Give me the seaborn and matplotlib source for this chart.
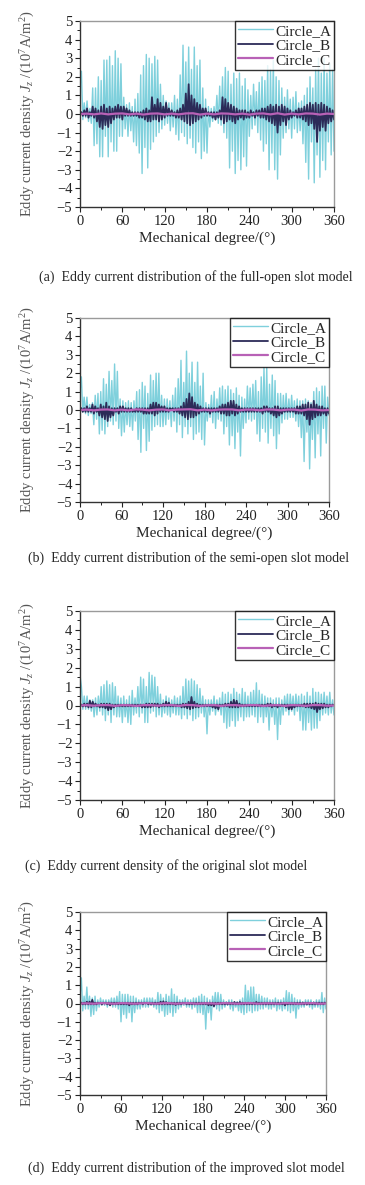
import numpy as np
import matplotlib
matplotlib.use("Agg")
import matplotlib.pyplot as plt
import seaborn as sns

# angle grids (deg)
deg = np.arange(0, 362, 2)
deg_c = np.arange(0, 370, 10)

# (a) full-open slot
a_A = [1.5, 2.3, -0.3, 0.6, -0.2, 0.7, -0.4, 0.3, -0.5, 1.4,
       -1.7, 1.4, -1.6, 2.0, -2.3, 1.8, -2.3, 2.9, -1.2, 2.9,
       -2.3, 3.1, -1.5, 2.6, -2.0, 3.4, -2.0, 3.0, -1.2, 2.7,
       -1.2, 0.9, -0.8, 0.5, -1.2, 0.6, -0.9, 0.4, -1.5, 0.8,
       -1.7, 1.1, -2.1, 2.1, -3.2, 2.6, -1.8, 3.2, -2.9, 3.0,
       -1.9, 2.7, -1.5, 3.1, -1.2, 2.9, -1.0, 1.6, -0.8, 1.0,
       -0.6, 0.7, -0.5, 0.6, -0.9, 0.6, -0.7, 1.0, -1.1, 0.8,
       -1.4, 2.1, -1.0, 3.7, -1.2, 2.8, -1.6, 3.6, -1.3, 2.4,
       -1.8, 3.6, -2.1, 2.6, -1.5, 2.9, -2.4, 1.4, -2.0, 0.8,
       -2.1, 0.4, -0.7, 0.3, -0.4, 0.4, -0.3, 1.0, -0.5, 1.5,
       -0.6, 2.0, -1.0, 2.5, -1.3, 2.3, -2.9, 1.6, -2.0, 2.2,
       -3.2, 1.9, -2.5, 2.2, -3.0, 1.5, -2.3, 1.9, -2.8, 1.3,
       -1.2, 1.0, -0.8, 1.6, -0.6, 1.2, -1.0, 1.7, -1.4, 2.0,
       -2.0, 1.8, -1.6, 2.6, -3.0, 2.4, -2.1, 2.9, -3.0, 2.0,
       -3.5, 1.8, -2.2, 1.4, -1.3, 0.9, -1.0, 1.3, -0.8, 0.8,
       -1.3, 0.9, -0.8, 1.2, -1.0, 0.6, -0.9, 0.7, -1.6, 1.0,
       -2.6, 1.4, -3.5, 2.0, -1.5, 1.4, -3.7, 2.4, -2.2, 3.0,
       -3.4, 2.2, -2.5, 3.0, -3.0, 2.2, -1.5, 2.7, -2.2, 2.4,
       -2.0]
a_B = [0.0, 0.1, -0.1, 0.2, -0.1, 0.3, -0.2, 0.1, -0.1, 0.4,
       -0.2, 0.3, -0.4, 0.2, -0.7, 0.4, -0.8, 0.5, -0.6, 0.3,
       -0.7, 0.4, -0.5, 0.3, -0.3, 0.4, -0.2, 0.5, -0.2, 0.4,
       -0.3, 0.4, -0.1, 0.3, -0.1, 0.2, -0.1, 0.1, -0.1, 0.1,
       -0.1, 0.1, -0.2, 0.1, -0.2, 0.2, -0.3, 0.3, -0.4, 0.2,
       -0.4, 0.9, -0.3, 0.5, -0.3, 0.8, -0.4, 0.6, -0.3, 0.4,
       -0.2, 0.6, -0.1, 0.3, -0.1, 0.2, -0.1, 0.1, -0.2, 0.2,
       -0.2, 0.3, -0.3, 0.5, -0.4, 1.1, -0.5, 1.6, -0.6, 1.0,
       -0.5, 0.8, -0.4, 0.6, -0.3, 0.5, -0.2, 0.3, -0.1, 0.3,
       -0.1, 0.1, -0.1, 0.1, -0.2, 0.1, -0.3, 0.1, -0.2, 0.2,
       -0.3, 0.9, -0.5, 0.8, -0.4, 0.6, -0.3, 0.5, -0.4, 0.4,
       -0.5, 0.3, -0.3, 0.2, -0.2, 0.2, -0.3, 0.2, -0.2, 0.1,
       -0.2, 0.2, -0.1, 0.1, -0.2, 0.2, -0.1, 0.2, -0.2, 0.3,
       -0.2, 0.3, -0.3, 0.4, -0.4, 0.5, -0.5, 0.4, -0.6, 0.5,
       -1.0, 0.4, -0.6, 0.5, -0.4, 0.4, -0.6, 0.3, -0.3, 0.2,
       -0.2, 0.1, -0.1, 0.2, -0.2, 0.3, -0.2, 0.3, -0.3, 0.4,
       -0.4, 0.5, -0.6, 0.6, -0.5, 0.5, -0.8, 0.6, -1.5, 0.5,
       -0.9, 0.6, -0.7, 0.5, -0.9, 0.4, -0.5, 0.3, -0.4, 0.2,
       -0.3]
a_C = [0.0, 0.02, -0.02, 0.03, -0.02, 0.02, 0.03, -0.02, 0.02, -0.03,
       0.02, 0.03, -0.02, 0.02, -0.02, 0.03, 0.04, -0.03, 0.02, -0.02,
       0.03, 0.02, -0.02, 0.02, -0.03, 0.02, 0.03, -0.02, 0.04, -0.03,
       0.02, -0.02, 0.03, 0.02, -0.03, 0.02, 0.0]

# (b) semi-open slot
b_A = [1.0, 1.8, -0.1, 0.7, -0.2, 0.7, -0.3, 0.3, -0.2, 0.4,
       -0.8, 0.8, -0.5, 0.9, -1.3, 1.0, -1.1, 1.7, -1.3, 1.4,
       -0.9, 2.1, -0.6, 1.6, -0.8, 2.5, -0.6, 2.1, -1.0, 0.6,
       -1.4, 0.5, -1.2, 0.4, -0.8, 0.5, -0.9, 0.4, -1.1, 0.5,
       -0.6, 1.0, -1.6, 1.1, -2.3, 1.5, -1.0, 1.3, -2.2, 0.9,
       -1.7, 1.9, -1.1, 1.6, -0.9, 2.0, -0.8, 2.0, -0.9, 0.8,
       -0.9, 0.6, -0.8, 0.6, -0.5, 0.5, -0.9, 0.8, -0.6, 1.2,
       -1.2, 1.7, -0.8, 2.7, -1.5, 1.5, -0.9, 3.2, -1.3, 2.0,
       -0.9, 2.6, -1.6, 1.5, -1.3, 2.6, -1.2, 1.3, -1.6, 2.0,
       -1.9, 0.4, -0.6, 0.3, -0.4, 0.8, -0.7, 1.0, -1.0, 0.6,
       -0.5, 1.2, -0.6, 1.3, -1.3, 1.1, -0.9, 1.3, -1.9, 1.1,
       -1.4, 0.9, -2.1, 1.2, -1.2, 0.8, -2.5, 0.7, -1.0, 0.6,
       -0.7, 1.3, -0.5, 1.2, -0.6, 1.4, -0.5, 1.6, -1.3, 1.0,
       -1.7, 1.8, -1.0, 2.3, -1.2, 2.3, -1.8, 1.4, -1.0, 1.9,
       -1.4, 1.6, -2.1, 0.9, -1.3, 0.9, -0.7, 0.8, -0.5, 0.9,
       -0.5, 0.6, -0.4, 0.8, -0.4, 0.5, -0.6, 0.6, -0.9, 0.5,
       -1.5, 0.5, -2.8, 0.6, -1.2, 0.5, -3.2, 0.4, -1.6, 1.0,
       -2.6, 1.2, -1.3, 1.0, -2.5, 1.3, -1.0, 1.3, -1.8, 0.7,
       -0.3]
b_B = [0.0, 0.1, -0.1, 0.1, -0.1, 0.2, -0.1, 0.1, -0.1, 0.3,
       -0.2, 0.2, -0.1, 0.1, -0.3, 0.3, -0.4, 0.2, -0.5, 0.4,
       -0.6, 0.2, -0.4, 0.1, -0.3, 0.1, -0.1, 0.1, -0.2, 0.2,
       -0.1, 0.2, -0.1, 0.1, -0.1, 0.1, -0.1, 0.1, -0.1, 0.0,
       -0.1, 0.1, -0.1, 0.1, -0.1, 0.1, -0.2, 0.1, -0.2, 0.1,
       -0.2, 0.3, -0.2, 0.4, -0.3, 0.4, -0.2, 0.3, -0.1, 0.2,
       -0.1, 0.2, -0.1, 0.1, -0.1, 0.1, 0.0, 0.1, -0.1, 0.1,
       -0.1, 0.1, -0.2, 0.2, -0.3, 0.4, -0.4, 0.6, -0.5, 0.9,
       -0.4, 0.7, -0.4, 0.4, -0.3, 0.3, -0.2, 0.2, -0.1, 0.1,
       -0.1, 0.1, -0.1, 0.1, -0.2, 0.1, -0.1, 0.1, -0.1, 0.1,
       -0.1, 0.2, -0.2, 0.3, -0.2, 0.3, -0.3, 0.4, -0.3, 0.5,
       -0.2, 0.5, -0.3, 0.3, -0.2, 0.2, -0.1, 0.1, -0.1, 0.1,
       -0.1, 0.1, -0.1, 0.1, -0.1, 0.1, -0.1, 0.1, -0.1, 0.1,
       -0.1, 0.1, -0.2, 0.2, -0.1, 0.2, -0.1, 0.1, -0.2, 0.1,
       -0.3, 0.2, -0.4, 0.2, -0.3, 0.1, -0.2, 0.1, -0.1, 0.1,
       -0.1, 0.1, -0.1, 0.1, -0.1, 0.1, -0.2, 0.2, -0.2, 0.2,
       -0.2, 0.3, -0.3, 0.3, -0.5, 0.4, -0.8, 0.3, -0.5, 0.5,
       -0.4, 0.3, -0.3, 0.2, -0.3, 0.2, -0.2, 0.1, -0.3, 0.1,
       -0.2]
b_C = [0.0, 0.02, -0.02, 0.02, 0.03, -0.02, 0.02, -0.02, 0.03, 0.02,
       -0.02, 0.02, 0.03, -0.02, 0.02, 0.03, 0.04, -0.02, 0.02, -0.02,
       0.02, 0.03, 0.03, -0.02, 0.02, 0.02, -0.02, 0.03, 0.02, -0.02,
       0.02, 0.02, -0.03, 0.03, 0.02, -0.02, 0.0]

# (c) original slot
c_A = [1.6, 1.0, -0.2, 0.5, -0.2, 0.5, -0.2, 0.3, -0.3, 0.3,
       -0.6, 0.4, -0.5, 0.5, -0.3, 1.0, -0.5, 1.1, -0.8, 1.3,
       -0.5, 1.1, -0.9, 1.2, -0.5, 1.0, -0.6, 0.5, -0.6, 0.4,
       -0.9, 0.5, -0.6, 0.3, -0.9, 0.5, -1.0, 0.8, -0.5, 0.4,
       -0.4, 1.0, -0.6, 1.5, -0.4, 1.4, -0.9, 1.0, -0.9, 1.75,
       -0.4, 1.6, -0.3, 1.5, -0.6, 1.0, -0.5, 0.6, -0.6, 0.3,
       -0.4, 0.5, -0.5, 0.4, -0.6, 0.3, -0.4, 0.5, -0.5, 0.4,
       -0.5, 0.5, -0.7, 1.0, -0.5, 1.4, -0.7, 1.3, -0.5, 1.4,
       -0.8, 1.3, -0.7, 1.1, -0.6, 0.9, -0.4, 0.5, -0.6, 0.3,
       -1.5, 0.3, -0.5, 0.3, -0.3, 0.5, -0.5, 0.3, -0.3, 0.4,
       -0.5, 0.7, -0.9, 0.6, -1.2, 0.7, -1.1, 0.6, -0.8, 0.9,
       -1.1, 0.7, -0.8, 0.6, -0.6, 0.9, -0.8, 0.7, -0.6, 0.5,
       -0.6, 0.7, -0.5, 0.8, -0.6, 1.2, -0.9, 0.8, -0.6, 0.6,
       -0.9, 0.5, -0.6, 0.4, -1.3, 0.4, -0.6, 0.3, -1.0, 0.4,
       -1.8, 0.4, -1.0, 0.3, -0.5, 0.5, -0.3, 0.6, -0.5, 0.6,
       -0.3, 0.5, -0.5, 0.6, -0.3, 0.5, -0.8, 0.6, -1.3, 0.5,
       -1.3, 0.7, -0.9, 0.5, -1.3, 0.9, -1.2, 0.7, -1.2, 0.7,
       -0.8, 0.6, -0.5, 0.7, -0.4, 0.5, -0.5, 0.7, -0.4, 0.3,
       -0.5]
c_B = [0.0, 0.05, -0.05, 0.1, -0.05, 0.1, -0.1, 0.25, -0.1, 0.2,
       -0.05, 0.1, -0.05, 0.05, -0.1, 0.1, -0.1, 0.1, -0.15, 0.1,
       -0.25, 0.1, -0.2, 0.05, -0.1, 0.05, -0.05, 0.05, -0.05, 0.05,
       -0.05, 0.05, -0.05, 0.05, -0.05, 0.05, -0.05, 0.05, -0.05, 0.05,
       -0.05, 0.05, -0.05, 0.05, -0.1, 0.05, -0.1, 0.1, -0.1, 0.1,
       -0.1, 0.1, -0.05, 0.1, -0.05, 0.1, -0.1, 0.05, -0.05, 0.1,
       -0.05, 0.2, -0.05, 0.15, -0.05, 0.05, -0.05, 0.05, -0.05, 0.05,
       -0.05, 0.05, -0.1, 0.1, -0.1, 0.1, -0.15, 0.2, -0.2, 0.45,
       -0.15, 0.2, -0.1, 0.1, -0.1, 0.05, -0.05, 0.05, -0.05, 0.05,
       -0.05, 0.05, -0.05, 0.05, -0.1, 0.05, -0.15, 0.05, -0.2, 0.05,
       -0.05, 0.05, -0.05, 0.1, -0.05, 0.1, -0.1, 0.2, -0.1, 0.3,
       -0.1, 0.25, -0.1, 0.1, -0.05, 0.05, -0.05, 0.05, -0.05, 0.05,
       -0.05, 0.05, -0.05, 0.05, -0.05, 0.05, -0.05, 0.05, -0.05, 0.05,
       -0.05, 0.05, -0.05, 0.1, -0.05, 0.1, -0.1, 0.05, -0.05, 0.05,
       -0.1, 0.05, -0.05, 0.05, -0.05, 0.05, -0.1, 0.05, -0.2, 0.05,
       -0.2, 0.05, -0.1, 0.05, -0.05, 0.05, -0.05, 0.05, -0.05, 0.1,
       -0.1, 0.1, -0.1, 0.1, -0.15, 0.1, -0.2, 0.15, -0.35, 0.1,
       -0.2, 0.1, -0.15, 0.1, -0.1, 0.05, -0.1, 0.05, -0.05, 0.05,
       0.0]
c_C = [0.0, 0.02, -0.01, 0.02, 0.02, -0.02, 0.02, 0.01, -0.02, 0.02,
       0.02, -0.01, 0.02, 0.02, -0.02, 0.03, 0.02, -0.02, 0.01, 0.02,
       -0.02, 0.02, 0.02, -0.01, 0.02, 0.02, -0.02, 0.01, 0.02, -0.02,
       0.02, 0.01, -0.02, 0.02, 0.02, -0.01, 0.0]

# (d) improved slot
d_A = [0.4, 1.4, -0.4, 0.4, -0.3, 0.9, -0.3, 0.4, -0.7, 0.3,
       -0.6, 0.4, -0.4, 0.2, -0.2, 0.3, -0.1, 0.2, -0.1, 0.2,
       -0.2, 0.2, -0.1, 0.3, -0.2, 0.3, -0.2, 0.4, -0.3, 0.65,
       -1.0, 0.5, -0.6, 0.5, -0.8, 0.5, -0.5, 0.4, -1.0, 0.4,
       -0.5, 0.3, -0.3, 0.2, -0.3, 0.2, -0.2, 0.3, -0.2, 0.3,
       -0.2, 0.3, -0.1, 0.3, -0.2, 0.2, -0.3, 0.6, -0.5, 0.5,
       -0.4, 0.3, -0.7, 0.5, -0.6, 0.4, -0.5, 0.8, -0.7, 0.5,
       -0.5, 0.4, -0.3, 0.2, -0.2, 0.2, -0.1, 0.3, -0.2, 0.2,
       -0.2, 0.2, -0.3, 0.3, -0.2, 0.3, -0.5, 0.4, -0.5, 0.5,
       -0.6, 0.4, -1.4, 0.3, -0.5, 0.2, -0.9, 0.4, -0.2, 0.6,
       -0.3, 0.6, -0.4, 0.5, -0.3, 0.2, -0.2, 0.1, -0.1, 0.2,
       -0.3, 0.2, -0.4, 0.1, -0.2, 0.1, -0.4, 0.2, -0.5, 0.3,
       -0.6, 1.0, -0.5, 0.7, -0.4, 0.9, -0.5, 0.9, -0.4, 0.5,
       -0.4, 0.5, -0.3, 0.4, -0.3, 0.3, -0.2, 0.3, -0.3, 0.2,
       -0.3, 0.2, -0.2, 0.3, -0.4, 0.2, -0.3, 0.2, -0.4, 0.3,
       -0.3, 0.7, -0.4, 0.6, -0.5, 0.5, -0.4, 0.3, -0.8, 0.2,
       -0.3, 0.2, -0.2, 0.1, -0.2, 0.2, -0.1, 0.2, -0.2, 0.2,
       -0.3, 0.1, -0.2, 0.2, -0.2, 0.2, -0.3, 0.6, -0.5, 0.3,
       -0.3]
d_B = [0.0, 0.05, -0.05, 0.05, -0.05, 0.1, -0.05, 0.1, -0.05, 0.2,
       -0.05, 0.05, -0.05, 0.05, 0.0, 0.05, -0.05, 0.05, 0.0, 0.05,
       -0.05, 0.05, -0.1, 0.05, -0.05, 0.05, -0.05, 0.05, -0.05, 0.05,
       -0.05, 0.05, -0.05, 0.05, -0.05, 0.05, -0.1, 0.05, -0.05, 0.05,
       -0.05, 0.05, -0.05, 0.05, 0.0, 0.05, -0.05, 0.05, 0.0, 0.05,
       -0.05, 0.05, -0.05, 0.05, -0.05, 0.05, -0.05, 0.05, -0.05, 0.1,
       -0.05, 0.12, -0.05, 0.08, -0.05, 0.05, -0.05, 0.05, -0.05, 0.05,
       -0.08, 0.05, -0.05, 0.05, -0.05, 0.05, 0.0, 0.05, -0.05, 0.05,
       -0.05, 0.05, -0.05, 0.05, -0.05, 0.05, -0.05, 0.05, -0.05, 0.05,
       -0.05, 0.05, -0.05, 0.05, -0.1, 0.05, -0.1, 0.05, -0.15, 0.05,
       -0.05, 0.05, -0.05, 0.05, -0.05, 0.05, -0.05, 0.05, -0.05, 0.05,
       -0.05, 0.05, -0.05, 0.08, -0.05, 0.05, -0.05, 0.08, -0.05, 0.05,
       -0.05, 0.05, -0.05, 0.05, -0.05, 0.05, -0.05, 0.05, -0.05, 0.08,
       -0.05, 0.05, -0.05, 0.05, -0.05, 0.05, -0.05, 0.05, -0.05, 0.05,
       -0.05, 0.05, -0.05, 0.05, -0.05, 0.05, -0.05, 0.05, -0.05, 0.05,
       -0.1, 0.05, -0.05, 0.05, -0.05, 0.05, -0.05, 0.05, -0.05, 0.05,
       -0.05, 0.05, -0.05, 0.05, -0.05, 0.05, -0.05, 0.05, -0.05, 0.05,
       -0.05, 0.05, -0.05, 0.05, -0.05, 0.05, -0.05, 0.05, -0.05, 0.05,
       0.0]
d_C = [0.0, 0.01, -0.01, 0.02, 0.01, -0.01, 0.02, 0.01, -0.01, 0.01,
       0.02, -0.01, 0.01, 0.02, -0.01, 0.01, 0.02, -0.01, 0.01, 0.01,
       -0.01, 0.02, 0.01, -0.01, 0.01, 0.02, -0.01, 0.01, 0.01, -0.01,
       0.02, 0.01, -0.01, 0.01, 0.02, -0.01, 0.0]

captions = [
    "(a)  Eddy current distribution of the full-open slot model",
    "(b)  Eddy current distribution of the semi-open slot model",
    "(c)  Eddy current density of the original slot model",
    "(d)  Eddy current distribution of the improved slot model",
]
series_names = ["Circle_A", "Circle_B", "Circle_C"]
colors = ["#7fd0dc", "#2c2b58", "#b861b6"]
y_ticks = [-5, -4, -3, -2, -1, 0, 1, 2, 3, 4, 5]
x_ticks = [0, 60, 120, 180, 240, 300, 360]

sns.set_style("ticks")
plt.rcParams["font.family"] = ["Liberation Serif", "DejaVu Serif"]
plt.rcParams["mathtext.fontset"] = "custom"
plt.rcParams["mathtext.rm"] = "Liberation Serif"
plt.rcParams["mathtext.it"] = "Liberation Serif:italic"

W, H = 365, 1185
fig = plt.figure(figsize=(W / 100, H / 100), dpi=100)

# axes boxes in pixels: left, top, right, bottom
boxes = [(80, 21, 334, 207), (80, 318, 329, 502), (80, 611, 334, 800), (80, 912, 326, 1095)]
cap_pos = [(39, 277), (28, 558), (25, 866), (28, 1168)]
panels = [(a_A, a_B, a_C), (b_A, b_B, b_C), (c_A, c_B, c_C), (d_A, d_B, d_C)]

for (l, t, r, b), (A, B, C), cap, (cx, cy) in zip(boxes, panels, captions, cap_pos):
    ax = fig.add_axes([l / W, 1 - b / H, (r - l) / W, (b - t) / H])
    sns.lineplot(x=deg, y=A, ax=ax, color=colors[0], lw=1.0, label=series_names[0])
    sns.lineplot(x=deg, y=B, ax=ax, color=colors[1], lw=1.3, label=series_names[1])
    sns.lineplot(x=deg_c, y=C, ax=ax, color=colors[2], lw=1.6, label=series_names[2])
    ax.set_xlim(0, 360)
    ax.set_ylim(-5, 5)
    ax.set_xticks(x_ticks)
    ax.set_xticks(range(30, 360, 60), minor=True)
    ax.set_yticks(y_ticks)
    ax.set_yticklabels([("\u2212" + str(-v)) if v < 0 else str(v) for v in y_ticks])
    ax.set_yticks(np.arange(-4.5, 5, 1.0), minor=True)
    ax.tick_params(axis="both", which="major", direction="out", length=3.5, width=0.8,
                   labelsize=10.5, pad=2, colors="#222222")
    ax.tick_params(axis="both", which="minor", direction="out", length=2.5, width=0.7,
                   colors="#222222")
    for side in ["left", "bottom"]:
        ax.spines[side].set_color("#333333")
        ax.spines[side].set_linewidth(1.0)
    for side in ["top", "right"]:
        ax.spines[side].set_color("#9a9a9a")
        ax.spines[side].set_linewidth(1.0)
    ax.set_xlabel("Mechanical degree/(\u00b0)", fontsize=11, labelpad=3)
    ax.set_ylabel(r"Eddy current density $J_z$ /(10$^7$A/m$^2$)", fontsize=10.5,
                  color="#555555")
    ax.yaxis.set_label_coords(-(l - 37) / (r - l), 0.5)
    leg = ax.legend(loc="upper right", borderaxespad=0, fontsize=11, frameon=True,
                    fancybox=False, handlelength=2.3, handletextpad=0.1,
                    labelspacing=0.05, borderpad=0.2)
    leg.get_frame().set_edgecolor("black")
    leg.get_frame().set_linewidth(1.0)
    fig.text(cx / W, 1 - cy / H, cap, fontsize=10, ha="left", va="center")

fig.savefig("out.png", dpi=100)
